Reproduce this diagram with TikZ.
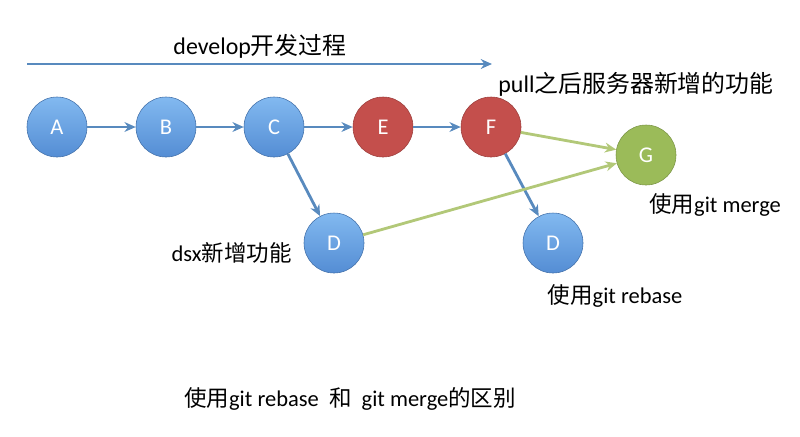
\documentclass[tikz,border=0pt]{standalone}
\usepackage{fontspec}
\setmainfont{Carlito}
\newfontfamily\cjk{Noto Sans CJK SC}
\usetikzlibrary{arrows.meta}
\definecolor{gitblue}{RGB}{84,141,212}
\definecolor{gitbluel}{RGB}{130,185,240}
\definecolor{gitred}{RGB}{196,79,76}
\definecolor{gitgreen}{RGB}{155,187,89}
\definecolor{lineblue}{RGB}{88,138,190}
\definecolor{linegreen}{RGB}{178,200,120}

\tikzset{
  commit/.style={circle, minimum size=60*0.025cm, inner sep=0pt, text=white, font=\fontsize{16}{16}\selectfont},
  bluecommit/.style={commit, draw=gitblue!80!black, top color=gitbluel, bottom color=gitblue},
  redcommit/.style={commit, draw=gitred!80!black, fill=gitred},
  greencommit/.style={commit, draw=gitgreen!80!black, fill=gitgreen},
  bluelink/.style={draw=lineblue, line width=2pt, -{Stealth[length=8pt,width=7pt]}},
  greenlink/.style={draw=linegreen, line width=2pt, -{Stealth[length=8pt,width=7pt]}},
  note/.style={font=\fontsize{16}{18}\selectfont, inner sep=0pt}
}

\begin{document}
\begin{tikzpicture}[x=0.025cm, y=-0.025cm]
                \useasboundingbox (0,0) rectangle (800,436);

                % develop timeline
                \coordinate (devS) at (27,64);
                \coordinate (devE) at (492,64);
                \draw[bluelink] (devS) -- (devE);
                \node[note, font=\fontsize{17}{19}\selectfont] (devText) at (260,46) {develop{\cjk 开发过程}};

                % commits
                \node[bluecommit] (nA) at (57,127) {A};
                \node[bluecommit] (nB) at (166,127) {B};
                \node[bluecommit] (nC) at (274,127) {C};
                \node[redcommit] (nE) at (383,127) {E};
                \node[redcommit] (nF) at (491,127) {F};
                \node[greencommit] (nG) at (646,155) {G};
                \node[bluecommit] (nD) at (334,243) {D};
                \node[bluecommit] (nDr) at (553,243) {D};

                % links
                \draw[bluelink] (nA) -- (nB);
                \draw[bluelink] (nB) -- (nC);
                \draw[bluelink] (nC) -- (nE);
                \draw[bluelink] (nE) -- (nF);
                \draw[bluelink] (nC) -- (nD);
                \draw[bluelink] (nF) -- (nDr);
                \draw[greenlink] (nF) -- (nG);
                \draw[greenlink] (nD) -- (nG);

                % labels
                \node[note, font=\fontsize{17}{19}\selectfont] (pullText) at (636,84) {pull{\cjk 之后服务器新增的功能}};
                \node[note] (mergeText) at (715,205) {{\cjk 使用}git merge};
                \node[note, anchor=east] (dsxText) at (292,253) {dsx{\cjk 新增功能}};
                \node[note] (rebaseText) at (615,296) {{\cjk 使用}git rebase};
                \node[note] (capText) at (350,399) {{\cjk 使用}git rebase\ \ {\cjk 和}\ \ git merge{\cjk 的区别}};
            \end{tikzpicture}
\end{document}
